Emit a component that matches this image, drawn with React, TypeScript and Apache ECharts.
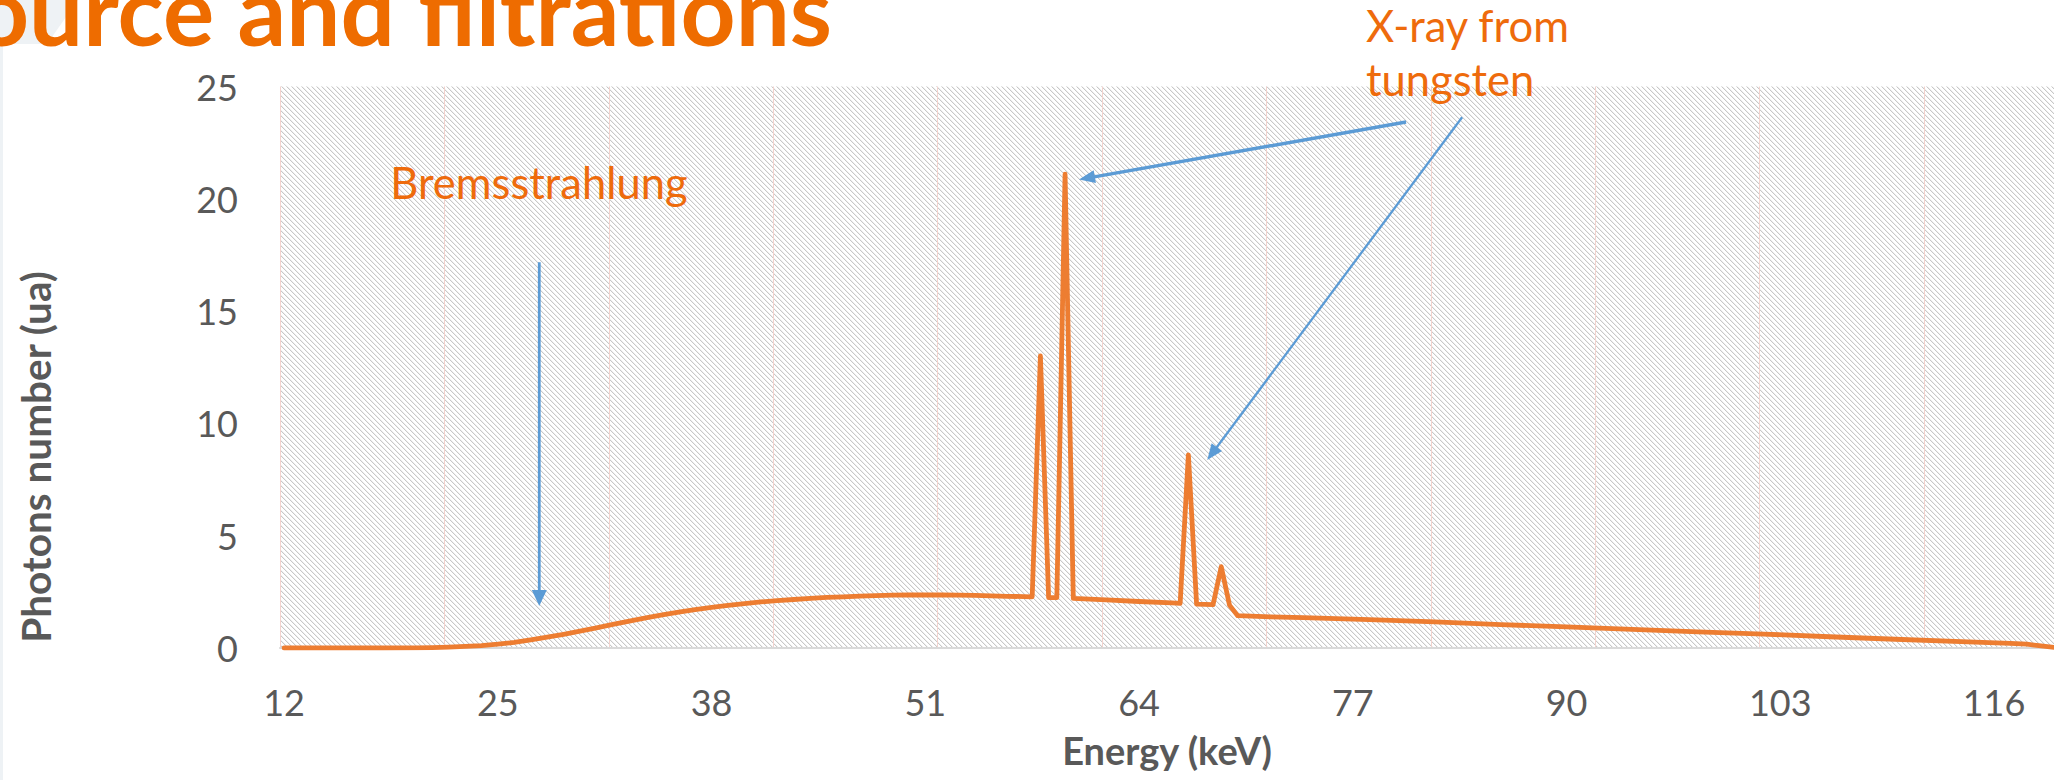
import React, { useEffect, useRef } from "react";
import * as echarts from "echarts";

// ---- data ----
const energyKeV = [
  12, 14, 16, 18, 20, 21, 22, 23, 24, 25, 26, 27, 28, 29, 30, 31, 32, 33, 34, 35,
  36, 37, 38, 39, 40, 41, 42, 43, 44, 45, 46, 47, 48, 49, 50, 51, 52, 53, 54, 55,
  56, 57, 57.5, 58, 58.5, 59, 59.5, 60, 62, 64, 66, 66.5, 67, 67.5, 68, 68.5, 69,
  69.5, 70, 72, 74, 78, 82, 86, 90, 94, 98, 102, 106, 110, 114, 117, 118, 119, 120,
];
const photons = [
  0, 0, 0, 0, 0.01, 0.02, 0.04, 0.07, 0.11, 0.17, 0.25, 0.36, 0.48, 0.61, 0.75, 0.9,
  1.05, 1.2, 1.34, 1.47, 1.6, 1.71, 1.81, 1.9, 1.98, 2.05, 2.11, 2.16, 2.21, 2.25,
  2.28, 2.31, 2.33, 2.35, 2.36, 2.36, 2.36, 2.35, 2.34, 2.32, 2.3, 2.29, 2.28, 13.0,
  2.24, 2.24, 21.1, 2.21, 2.14, 2.07, 2.01, 1.99, 8.6, 1.95, 1.94, 1.93, 3.62, 1.91,
  1.44, 1.39, 1.35, 1.26, 1.16, 1.04, 0.94, 0.83, 0.72, 0.62, 0.5, 0.39, 0.28, 0.21,
  0.17, 0.08, 0,
];
const xTickLabels = [12, 25, 38, 51, 64, 77, 90, 103, 116];
const yTickStep = 5;
const yMax = 25;
const xMin = 11.75;
const xMax = 119.65;
const gridStep = 10;

const chartTitle = "Source and filtrations";
const xAxisTitle = "Energy (keV)";
const yAxisTitle = "Photons number (ua)";
const bremsLabel = "Bremsstrahlung";
const tungstenLabel = ["X-ray from", "tungsten"];

// annotation anchors in data units [keV, photons]
const bremsAnchor = [27.5, 20.73];
const tungstenAnchor = [77.8, 27.74, 25.33];
const arrowFrom = [
  [80.24, 23.42],
  [83.65, 23.63],
  [27.52, 17.17],
];
const arrowTo = [
  [60.35, 20.86],
  [68.15, 8.37],
  [27.52, 1.87],
];
const arrowWidths = [3.4, 2.3, 2.8];

const FONT = "Lato, 'Noto Sans', sans-serif";
const ORANGE_TXT = "#EE6B0C";
const BLUE = "#5B9BD5";

export default function App() {
  const ref = useRef<HTMLDivElement>(null);

  useEffect(() => {
    const el = ref.current!;
    const chart = echarts.init(el, null, { renderer: "svg" });

    // hatch tile
    const tile = document.createElement("canvas");
    tile.width = 5;
    tile.height = 5;
    const ctx = tile.getContext("2d")!;
    ctx.fillStyle = "#ffffff";
    ctx.fillRect(0, 0, 5, 5);
    for (let i = 0; i < 5; i++) {
      ctx.fillStyle = "#c8c8c8";
      ctx.fillRect(i, i, 1, 1);
      ctx.fillStyle = "#efefef";
      ctx.fillRect((i + 1) % 5, i, 1, 1);
    }
    const hatch: any = { image: tile, repeat: "repeat" };

    const option: any = {
      animation: false,
      backgroundColor: "#ffffff",
      grid: {
        left: 280,
        right: 0,
        top: 86.5,
        bottom: 132,
        show: true,
        backgroundColor: hatch,
        borderWidth: 0,
        containLabel: false,
        outerBoundsMode: "none",
      },
      xAxis: [
        {
          type: "value",
          min: xMin,
          max: xMax,
          position: "bottom",
          axisLine: { show: true, lineStyle: { color: "#D9D9D9", width: 2 } },
          axisTick: { show: false },
          splitLine: { show: false },
          axisLabel: {
            customValues: xTickLabels,
            fontSize: 36,
            fontFamily: FONT,
            color: "#595959",
            margin: 36,
          },
          name: xAxisTitle,
          nameLocation: "middle",
          nameGap: 83,
          nameTextStyle: {
            fontSize: 38,
            fontWeight: "bold",
            fontFamily: FONT,
            color: "#595959",
          },
        },
        {
          type: "value",
          min: 0,
          max: xMax - xMin,
          interval: gridStep,
          position: "bottom",
          axisLine: { show: false },
          axisTick: { show: false },
          axisLabel: { show: false },
          splitLine: { show: true, lineStyle: { color: "#F3D3CE", width: 1 } },
        },
      ],
      yAxis: {
        type: "value",
        min: 0,
        max: yMax,
        interval: yTickStep,
        axisLine: { show: false },
        axisTick: { show: false },
        splitLine: { show: false },
        axisLabel: {
          fontSize: 36,
          fontFamily: FONT,
          color: "#595959",
          margin: 42,
        },
      },
      series: [
        {
          type: "line",
          xAxisIndex: 0,
          yAxisIndex: 0,
          data: energyKeV.map((e, i) => [e, photons[i]]),
          showSymbol: false,
          symbol: "none",
          clip: true,
          z: 5,
          lineStyle: { color: "#ED7D31", width: 4.8, join: "round", cap: "round" },
        },
      ],
    };
    chart.setOption(option);

    const toPx = (p: number[]) =>
      chart.convertToPixel({ xAxisIndex: 0, yAxisIndex: 0 } as any, p) as number[];

    const graphics: any[] = [];
    // faint slide background at top / left
    graphics.push({
      type: "polygon",
      z: 0,
      silent: true,
      shape: { points: [[0, 0], [78, 0], [47, 44], [0, 44]] },
      style: { fill: "#EEF2F5" },
    });
    graphics.push({
      type: "rect",
      z: 0,
      silent: true,
      shape: { x: 0, y: 44, width: 3, height: 736 },
      style: { fill: "#EEF2F5" },
    });
    // title (cut off at top, as in the reference)
    graphics.push({
      type: "text",
      x: 832,
      y: 8,
      z: 10,
      style: {
        text: chartTitle,
        font: `bold 96px ${FONT}`,
        fill: "#EE6C00",
        align: "right",
        verticalAlign: "middle",
      },
    });
    // y axis title
    graphics.push({
      type: "text",
      x: 35,
      y: 457,
      rotation: Math.PI / 2,
      z: 10,
      style: {
        text: yAxisTitle,
        font: `bold 40.5px ${FONT}`,
        fill: "#595959",
        align: "center",
        verticalAlign: "middle",
      },
    });
    // annotation texts
    const bp = toPx(bremsAnchor);
    graphics.push({
      type: "text",
      x: bp[0],
      y: bp[1],
      z: 10,
      style: {
        text: bremsLabel,
        font: `43.5px ${FONT}`,
        fill: ORANGE_TXT,
        align: "center",
        verticalAlign: "middle",
      },
    });
    const t1 = toPx([tungstenAnchor[0], tungstenAnchor[1]]);
    const t2 = toPx([tungstenAnchor[0], tungstenAnchor[2]]);
    [t1, t2].forEach((p, i) => {
      graphics.push({
        type: "text",
        x: p[0],
        y: p[1],
        z: 10,
        style: {
          text: tungstenLabel[i],
          font: `43.5px ${FONT}`,
          fill: ORANGE_TXT,
          align: "left",
          verticalAlign: "middle",
        },
      });
    });
    // arrows
    arrowFrom.forEach((f, i) => {
      const a = toPx(f);
      const b = toPx(arrowTo[i]);
      const dx = b[0] - a[0];
      const dy = b[1] - a[1];
      const len = Math.sqrt(dx * dx + dy * dy);
      const ux = dx / len;
      const uy = dy / len;
      const L = 16;
      const W = i === 2 ? 7.5 : 6.5;
      const bx = b[0] - ux * L;
      const by = b[1] - uy * L;
      graphics.push({
        type: "line",
        z: 9,
        shape: { x1: a[0], y1: a[1], x2: bx + ux * 2, y2: by + uy * 2 },
        style: { stroke: BLUE, lineWidth: arrowWidths[i] },
      });
      graphics.push({
        type: "polygon",
        z: 9,
        shape: {
          points: [
            [b[0], b[1]],
            [bx - uy * W, by + ux * W],
            [bx + uy * W, by - ux * W],
          ],
        },
        style: { fill: BLUE },
      });
    });
    chart.setOption({ graphic: graphics });

    return () => {
      chart.dispose();
    };
  }, []);

  return (
    <div
      ref={ref}
      style={{ position: "absolute", left: 0, top: 0, width: 2054, height: 780 }}
    />
  );
}
